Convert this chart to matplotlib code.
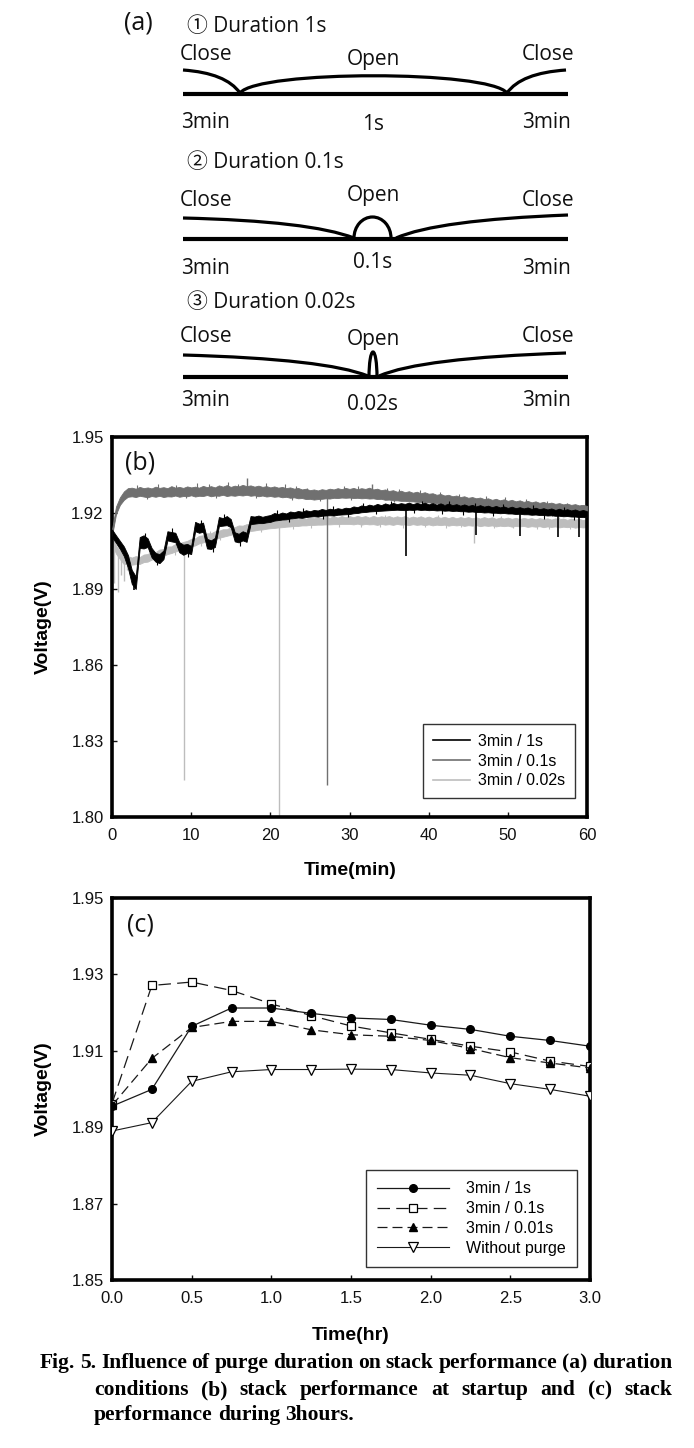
import numpy as np
import matplotlib
matplotlib.use("Agg")
import matplotlib.pyplot as plt
from matplotlib.path import Path
from matplotlib.patches import PathPatch, Arc
from matplotlib.lines import Line2D

plt.rcParams['font.family'] = ['Liberation Sans', 'DejaVu Sans']

# ---------------- data: panel (b) ----------------
# noisy traces read as upper / lower edge of the noise band every 0.5 min
t_b = np.arange(0, 60.01, 0.5)

hi_1s = [1.9135, 1.9112, 1.9090, 1.9068, 1.9035, 1.8975, 1.8950, 1.9105, 1.9112, 1.9100,
         1.9062, 1.9042, 1.9038, 1.9052, 1.9128, 1.9125, 1.9122, 1.9085, 1.9075, 1.9078,
         1.9070, 1.9165, 1.9158, 1.9162, 1.9098, 1.9092, 1.9102, 1.9184, 1.9180, 1.9188,
         1.9176, 1.9124, 1.9118, 1.9128, 1.9122, 1.9188, 1.9186, 1.9190, 1.9185, 1.9189,
         1.9192, 1.9200, 1.9196, 1.9202, 1.9198, 1.9206, 1.9203, 1.9208, 1.9205, 1.9211,
         1.9207, 1.9212, 1.9210, 1.9216, 1.9212, 1.9217, 1.9214, 1.9219, 1.9216, 1.9221,
         1.9219, 1.9226, 1.9223, 1.9230, 1.9227, 1.9233, 1.9229, 1.9236, 1.9231, 1.9238,
         1.9233, 1.9240, 1.9235, 1.9239, 1.9236, 1.9241, 1.9235, 1.9240, 1.9236, 1.9241,
         1.9234, 1.9239, 1.9233, 1.9238, 1.9232, 1.9237, 1.9231, 1.9235, 1.9229, 1.9234,
         1.9228, 1.9232, 1.9226, 1.9231, 1.9225, 1.9229, 1.9223, 1.9228, 1.9222, 1.9226,
         1.9220, 1.9225, 1.9219, 1.9223, 1.9218, 1.9222, 1.9216, 1.9221, 1.9215, 1.9219,
         1.9214, 1.9218, 1.9212, 1.9217, 1.9211, 1.9215, 1.9210, 1.9214, 1.9208, 1.9212,
         1.9207]
lo_1s = [1.9105, 1.9082, 1.9058, 1.9030, 1.8985, 1.8920, 1.8900, 1.9062, 1.9060, 1.9066,
         1.9025, 1.9008, 1.9002, 1.9018, 1.9092, 1.9088, 1.9085, 1.9045, 1.9035, 1.9042,
         1.9038, 1.9128, 1.9122, 1.9126, 1.9060, 1.9058, 1.9066, 1.9148, 1.9150, 1.9152,
         1.9144, 1.9088, 1.9084, 1.9092, 1.9086, 1.9156, 1.9158, 1.9160, 1.9160, 1.9163,
         1.9165, 1.9170, 1.9172, 1.9174, 1.9175, 1.9178, 1.9180, 1.9182, 1.9181, 1.9184,
         1.9186, 1.9187, 1.9186, 1.9189, 1.9190, 1.9191, 1.9190, 1.9193, 1.9194, 1.9195,
         1.9196, 1.9199, 1.9200, 1.9203, 1.9204, 1.9206, 1.9207, 1.9208, 1.9209, 1.9210,
         1.9211, 1.9212, 1.9213, 1.9212, 1.9211, 1.9213, 1.9212, 1.9214, 1.9212, 1.9213,
         1.9211, 1.9212, 1.9210, 1.9211, 1.9209, 1.9210, 1.9208, 1.9209, 1.9207, 1.9207,
         1.9205, 1.9206, 1.9204, 1.9204, 1.9202, 1.9203, 1.9201, 1.9201, 1.9199, 1.9200,
         1.9198, 1.9198, 1.9196, 1.9197, 1.9195, 1.9195, 1.9193, 1.9194, 1.9192, 1.9192,
         1.9190, 1.9191, 1.9189, 1.9189, 1.9187, 1.9188, 1.9186, 1.9186, 1.9184, 1.9185,
         1.9183]

hi_01s = [1.9135, 1.9225, 1.9262, 1.9285, 1.9298,
          1.9300, 1.9296, 1.9303, 1.9298, 1.9301, 1.9297, 1.9304, 1.9299, 1.9302, 1.9298,
          1.9306, 1.9300, 1.9303, 1.9299, 1.9305, 1.9301, 1.9304, 1.9300, 1.9307, 1.9302,
          1.9306, 1.9301, 1.9309, 1.9304, 1.9310, 1.9303, 1.9308, 1.9305, 1.9311, 1.9306,
          1.9309, 1.9304, 1.9308, 1.9303, 1.9306, 1.9301, 1.9305, 1.9300, 1.9303, 1.9298,
          1.9301, 1.9296, 1.9299, 1.9293, 1.9296, 1.9290,
          1.9293, 1.9289, 1.9294, 1.9291, 1.9296, 1.9293, 1.9298, 1.9294, 1.9299, 1.9295,
          1.9299, 1.9294, 1.9298, 1.9295, 1.9300, 1.9293, 1.9296, 1.9290, 1.9293, 1.9287,
          1.9290, 1.9284, 1.9288, 1.9282, 1.9286, 1.9280, 1.9284, 1.9278, 1.9282, 1.9276,
          1.9278, 1.9272, 1.9275, 1.9269, 1.9272, 1.9266, 1.9269, 1.9263, 1.9266, 1.9260,
          1.9263, 1.9258, 1.9261, 1.9255, 1.9258, 1.9252, 1.9256, 1.9250, 1.9254, 1.9248,
          1.9252, 1.9246, 1.9250, 1.9244, 1.9248, 1.9242, 1.9246, 1.9240, 1.9244, 1.9238,
          1.9241, 1.9236, 1.9239, 1.9234, 1.9237, 1.9232, 1.9235, 1.9230, 1.9232, 1.9228]
lo_01s = [1.9110, 1.9195, 1.9232, 1.9252, 1.9264,
          1.9266, 1.9263, 1.9268, 1.9265, 1.9262, 1.9267, 1.9264, 1.9268, 1.9263, 1.9266,
          1.9265, 1.9269, 1.9264, 1.9267, 1.9266, 1.9270, 1.9265, 1.9268, 1.9267, 1.9271,
          1.9266, 1.9269, 1.9268, 1.9272, 1.9267, 1.9270, 1.9268, 1.9271, 1.9269, 1.9272,
          1.9268, 1.9270, 1.9266, 1.9269, 1.9265, 1.9267, 1.9264, 1.9266, 1.9262, 1.9264,
          1.9260, 1.9262, 1.9258, 1.9259, 1.9255, 1.9256,
          1.9253, 1.9255, 1.9256, 1.9258, 1.9257, 1.9260, 1.9259, 1.9261, 1.9260, 1.9261,
          1.9259, 1.9260, 1.9258, 1.9259, 1.9257, 1.9258, 1.9255, 1.9256, 1.9252, 1.9253,
          1.9250, 1.9250, 1.9248, 1.9248, 1.9246, 1.9246, 1.9244, 1.9244, 1.9242, 1.9242,
          1.9240, 1.9239, 1.9236, 1.9236, 1.9233, 1.9233, 1.9230, 1.9230, 1.9228, 1.9228,
          1.9225, 1.9226, 1.9223, 1.9223, 1.9220, 1.9220, 1.9217, 1.9217, 1.9214, 1.9214,
          1.9211, 1.9211, 1.9208, 1.9208, 1.9205, 1.9205, 1.9202, 1.9202, 1.9199, 1.9199,
          1.9196, 1.9196, 1.9193, 1.9193, 1.9190, 1.9190, 1.9188, 1.9188, 1.9185, 1.9184]

hi_002s = [1.9105, 1.9072, 1.9050, 1.9028, 1.9030, 1.9024, 1.9030, 1.9026, 1.9036, 1.9038,
           1.9048, 1.9046, 1.9056, 1.9058, 1.9068, 1.9068, 1.9078, 1.9080, 1.9086, 1.9090,
           1.9098, 1.9100, 1.9110, 1.9112, 1.9120, 1.9120, 1.9128, 1.9130, 1.9136, 1.9136,
           1.9144, 1.9144, 1.9151, 1.9150, 1.9156, 1.9155, 1.9161, 1.9160, 1.9165, 1.9164,
           1.9170, 1.9167, 1.9173, 1.9170, 1.9176, 1.9173, 1.9179, 1.9175, 1.9181, 1.9177,
           1.9183, 1.9179, 1.9184, 1.9180, 1.9186, 1.9181, 1.9187, 1.9182, 1.9188, 1.9183,
           1.9188, 1.9183, 1.9189, 1.9184, 1.9188, 1.9182, 1.9189, 1.9183, 1.9187, 1.9184,
           1.9188, 1.9182, 1.9187, 1.9183, 1.9188, 1.9181, 1.9186, 1.9182, 1.9187, 1.9181,
           1.9186, 1.9180, 1.9186, 1.9181, 1.9185, 1.9180, 1.9185, 1.9179, 1.9184, 1.9180,
           1.9184, 1.9179, 1.9183, 1.9178, 1.9184, 1.9179, 1.9183, 1.9177, 1.9182, 1.9178,
           1.9182, 1.9177, 1.9181, 1.9176, 1.9181, 1.9177, 1.9180, 1.9175, 1.9180, 1.9176,
           1.9179, 1.9174, 1.9179, 1.9175, 1.9178, 1.9173, 1.9178, 1.9174, 1.9177, 1.9172,
           1.9176]
lo_002s = [1.9080, 1.9040, 1.9018, 1.8998, 1.9000, 1.8996, 1.8998, 1.8999, 1.9006, 1.9008,
           1.9016, 1.9020, 1.9026, 1.9030, 1.9038, 1.9042, 1.9048, 1.9052, 1.9058, 1.9062,
           1.9068, 1.9072, 1.9080, 1.9084, 1.9090, 1.9093, 1.9098, 1.9102, 1.9106, 1.9110,
           1.9114, 1.9118, 1.9121, 1.9124, 1.9126, 1.9129, 1.9131, 1.9134, 1.9135, 1.9138,
           1.9140, 1.9141, 1.9143, 1.9144, 1.9146, 1.9147, 1.9149, 1.9149, 1.9151, 1.9151,
           1.9153, 1.9153, 1.9154, 1.9154, 1.9155, 1.9155, 1.9156, 1.9156, 1.9157, 1.9157,
           1.9157, 1.9155, 1.9158, 1.9154, 1.9157, 1.9155, 1.9156, 1.9153, 1.9157, 1.9154,
           1.9156, 1.9153, 1.9157, 1.9154, 1.9155, 1.9152, 1.9156, 1.9153, 1.9155, 1.9152,
           1.9155, 1.9151, 1.9154, 1.9152, 1.9154, 1.9150, 1.9153, 1.9151, 1.9153, 1.9149,
           1.9152, 1.9150, 1.9152, 1.9148, 1.9151, 1.9149, 1.9151, 1.9147, 1.9150, 1.9148,
           1.9150, 1.9146, 1.9149, 1.9147, 1.9149, 1.9145, 1.9148, 1.9146, 1.9148, 1.9144,
           1.9147, 1.9145, 1.9147, 1.9143, 1.9146, 1.9144, 1.9146, 1.9142, 1.9145, 1.9143,
           1.9145]

# spikes (purge events): time (min), start level, end level
sp_1s_t = [2.8, 37.1, 46.0, 51.5, 56.3, 59.0]
sp_1s_top = [1.8950, 1.9215, 1.9205, 1.9200, 1.9195, 1.9190]
sp_1s_low = [1.8895, 1.9030, 1.9115, 1.9110, 1.9105, 1.9105]

sp_01s_t = [17.1, 27.2, 32.8]
sp_01s_top = [1.9290, 1.9270, 1.9285]
sp_01s_low = [1.9338, 1.8126, 1.9315]

sp_002s_t = [0.3, 0.7, 1.1, 1.5, 1.9, 9.1, 21.1, 45.7]
sp_002s_top = [1.9080, 1.9050, 1.9030, 1.9015, 1.9010, 1.9070, 1.9160, 1.9165]
sp_002s_low = [1.8925, 1.8890, 1.8955, 1.8930, 1.8975, 1.8146, 1.8000, 1.9080]

# small noise hairs sticking out of the bands: time, base, tip
hr_1s_t = [4.2, 5.7, 7.6, 9.6, 11.3, 12.8, 14.2, 16.2, 20.8, 22.4, 24.1, 26.6, 27.9, 29.8,
           31.7, 33.4, 35.3, 38.2, 39.1, 41.7, 42.6, 44.3, 45.8, 48.1, 49.4, 53.2, 54.6,
           57.1, 58.3]
hr_1s_base = [1.9085, 1.9025, 1.9105, 1.9060, 1.9140, 1.9080, 1.9165, 1.9100, 1.9185, 1.9190,
              1.9195, 1.9200, 1.9203, 1.9207, 1.9215, 1.9220, 1.9222, 1.9224, 1.9225, 1.9222,
              1.9222, 1.9218, 1.9217, 1.9213, 1.9212, 1.9206, 1.9203, 1.9200, 1.9198]
hr_1s_tip = [1.9120, 1.8995, 1.9140, 1.9025, 1.9172, 1.9048, 1.9198, 1.9070, 1.9212, 1.9165,
             1.9220, 1.9176, 1.9228, 1.9183, 1.9240, 1.9195, 1.9247, 1.9200, 1.9249, 1.9196,
             1.9246, 1.9193, 1.9241, 1.9188, 1.9236, 1.9230, 1.9178, 1.9224, 1.9173]

hr_01s_t = [3.2, 4.4, 5.8, 8.1, 9.3, 10.7, 12.3, 13.1, 14.6, 15.9, 18.2, 19.4, 21.8, 22.7,
            23.2, 24.6, 26.3, 29.3, 30.2, 31.1, 34.7, 35.6, 36.2, 38.9, 40.3, 41.4, 43.8,
            44.9, 47.2, 49.6, 50.8, 52.3, 54.9, 55.6, 57.5, 59.2]
hr_01s_base = [1.9282, 1.9282, 1.9283, 1.9284, 1.9284, 1.9285, 1.9286, 1.9286, 1.9288, 1.9288,
               1.9287, 1.9285, 1.9283, 1.9280, 1.9278, 1.9275, 1.9272, 1.9278, 1.9278, 1.9277,
               1.9272, 1.9270, 1.9268, 1.9262, 1.9258, 1.9256, 1.9249, 1.9246, 1.9240, 1.9234,
               1.9230, 1.9227, 1.9220, 1.9218, 1.9213, 1.9209]
hr_01s_tip = [1.9312, 1.9255, 1.9315, 1.9310, 1.9258, 1.9318, 1.9314, 1.9260, 1.9322, 1.9316,
              1.9261, 1.9317, 1.9313, 1.9252, 1.9308, 1.9300, 1.9247, 1.9306, 1.9252, 1.9308,
              1.9298, 1.9243, 1.9296, 1.9290, 1.9233, 1.9282, 1.9276, 1.9220, 1.9266, 1.9262,
              1.9204, 1.9255, 1.9246, 1.9190, 1.9240, 1.9233]

hr_002s_t = [3.1, 5.6, 6.8, 7.9, 11.2, 12.4, 13.6, 16.4, 18.8, 20.6, 22.9, 25.1, 27.1, 28.7,
             31.4, 33.9, 34.5, 36.8, 39.5, 41.2, 42.2, 44.1, 48.3, 49.1, 50.6, 53.7, 55.2,
             56.4, 57.9]
hr_002s_base = [1.9012, 1.9033, 1.9050, 1.9062, 1.9095, 1.9105, 1.9116, 1.9137, 1.9148, 1.9155,
                1.9162, 1.9167, 1.9170, 1.9170, 1.9170, 1.9169, 1.9170, 1.9169, 1.9168, 1.9168,
                1.9167, 1.9166, 1.9165, 1.9164, 1.9163, 1.9162, 1.9161, 1.9160, 1.9160]
hr_002s_tip = [1.8990, 1.9008, 1.9078, 1.9036, 1.9068, 1.9130, 1.9092, 1.9112, 1.9125, 1.9178,
               1.9138, 1.9141, 1.9193, 1.9146, 1.9143, 1.9146, 1.9194, 1.9142, 1.9145, 1.9191,
               1.9141, 1.9144, 1.9139, 1.9188, 1.9141, 1.9136, 1.9138, 1.9183, 1.9135]

# ---------------- data: panel (c) ----------------
t_c = [0.0, 0.25, 0.5, 0.75, 1.0, 1.25, 1.5, 1.75, 2.0, 2.25, 2.5, 2.75, 3.0]
c_1s = [1.8955, 1.8999, 1.9164, 1.9212, 1.9212, 1.9198, 1.9186, 1.9182, 1.9167, 1.9156, 1.9138, 1.9127, 1.9112]
c_01s = [1.8962, 1.9271, 1.9280, 1.9258, 1.9223, 1.9192, 1.9165, 1.9147, 1.9130, 1.9112, 1.9097, 1.9073, 1.9059]
c_001s = [1.8957, 1.9080, 1.9161, 1.9177, 1.9177, 1.9155, 1.9142, 1.9138, 1.9127, 1.9106, 1.9082, 1.9068, 1.9055]
c_none = [1.8890, 1.8912, 1.9020, 1.9045, 1.9051, 1.9051, 1.9052, 1.9051, 1.9042, 1.9036, 1.9014, 1.8999, 1.8981]

labels_b = ['3min / 1s', '3min / 0.1s', '3min / 0.02s']
labels_c = ['3min / 1s', '3min / 0.1s', '3min / 0.01s', 'Without purge']

caption = ["Fig. 5. Influence of purge duration on stack performance (a) duration",
           "conditions (b) stack performance at startup and (c) stack",
           "performance during 3hours."]

# ---------------- figure ----------------
W, H = 694, 1448
fig = plt.figure(figsize=(W / 100, H / 100), dpi=100)


def fx(x):
    return x / W


def fy(y):
    return 1 - y / H


# ---------------- panel (a) schematic ----------------
axa = fig.add_axes([0, fy(420), 1, 420 / H])
axa.set_xlim(0, W)
axa.set_ylim(420, 0)
axa.axis('off')

afont = dict(family=['Open Sans', 'Noto Sans CJK KR', 'DejaVu Sans'], color='#111111')
LW_BASE = 3.0
LW_CURVE = 2.3


def quad(p0, p1, p2):
    return PathPatch(Path([p0, p1, p2], [Path.MOVETO, Path.CURVE3, Path.CURVE3]),
                     fc='none', ec='black', lw=LW_CURVE, capstyle='butt')


def cubic(p0, p1, p2, p3):
    return PathPatch(Path([p0, p1, p2, p3], [Path.MOVETO, Path.CURVE4, Path.CURVE4, Path.CURVE4]),
                     fc='none', ec='black', lw=LW_CURVE, capstyle='butt')


axa.text(138, 23, '(a)', fontsize=18, ha='center', va='center', **afont)

headers = ['\u2460 Duration 1s', '\u2461 Duration 0.1s', '\u2462 Duration 0.02s']
mid_lbl = ['1s', '0.1s', '0.02s']
head_y = [26, 163, 303]
base_y = [94, 239, 377]
close_y = [54, 201, 337]
open_y = [59, 195, 339]
low_y = [122, 268, 400]
mid_low_y = [124, 263, 404]

for i in range(3):
    axa.text(187, head_y[i], headers[i], fontsize=15, ha='left', va='center', **afont)
    axa.text(206, close_y[i], 'Close', fontsize=15, ha='center', va='center', **afont)
    axa.text(548, close_y[i], 'Close', fontsize=15, ha='center', va='center', **afont)
    axa.text(373, open_y[i], 'Open', fontsize=15, ha='center', va='center', **afont)
    axa.text(206, low_y[i], '3min', fontsize=15, ha='center', va='center', **afont)
    axa.text(547, low_y[i], '3min', fontsize=15, ha='center', va='center', **afont)
    axa.text(373, mid_low_y[i], mid_lbl[i], fontsize=15, ha='center', va='center', **afont)
    axa.plot([183, 568], [base_y[i], base_y[i]], color='black', lw=LW_BASE, solid_capstyle='butt')

# row 1 (long open)
axa.add_patch(quad((183, 70), (226, 73), (240, 93)))
axa.add_patch(cubic((240, 93), (258, 70), (489, 70), (507, 93)))
axa.add_patch(quad((507, 93), (521, 73), (566, 70)))
# row 2
axa.add_patch(quad((183, 218), (310, 221), (354, 238)))
axa.add_patch(Arc((372.5, 238), 37, 42, theta1=180, theta2=360, lw=LW_CURVE, color='black'))
axa.add_patch(quad((396, 238), (437, 220), (568, 215)))
# row 3
axa.add_patch(quad((183, 355), (326, 359), (368, 376)))
axa.add_patch(Arc((373, 377), 8, 50, theta1=180, theta2=360, lw=LW_CURVE, color='black'))
axa.add_patch(quad((379, 376), (420, 358), (566, 353)))

# ---------------- panel (b) ----------------
SPINE = 2.6
c_blk, c_dg, c_lg = '#000000', '#707070', '#bdbdbd'

axb = fig.add_axes([fx(112), fy(817), 475 / W, 380 / H])
axb.fill_between(t_b, lo_002s, hi_002s, color=c_lg, lw=0.6, zorder=2)
axb.vlines(hr_002s_t, hr_002s_base, hr_002s_tip, color=c_lg, lw=0.8, zorder=2)
axb.vlines(sp_002s_t, sp_002s_top, sp_002s_low, color=c_lg, lw=1.0, zorder=2)
axb.fill_between(t_b, lo_01s, hi_01s, color=c_dg, lw=0.6, zorder=3)
axb.vlines(hr_01s_t, hr_01s_base, hr_01s_tip, color=c_dg, lw=0.8, zorder=3)
axb.vlines(sp_01s_t, sp_01s_top, sp_01s_low, color=c_dg, lw=1.0, zorder=3)
axb.fill_between(t_b, lo_1s, hi_1s, color=c_blk, lw=0.6, zorder=4)
axb.vlines(hr_1s_t, hr_1s_base, hr_1s_tip, color=c_blk, lw=0.8, zorder=4)
axb.vlines(sp_1s_t, sp_1s_top, sp_1s_low, color=c_blk, lw=1.2, zorder=4)
axb.set_xlim(0, 60)
axb.set_ylim(1.80, 1.95)
axb.set_xticks([0, 10, 20, 30, 40, 50, 60])
axb.set_yticks([1.80, 1.83, 1.86, 1.89, 1.92, 1.95])
axb.set_yticklabels(['%.2f' % v for v in [1.80, 1.83, 1.86, 1.89, 1.92, 1.95]])
for s in axb.spines.values():
    s.set_linewidth(SPINE)
axb.tick_params(direction='in', length=3.5, width=1, labelsize=12, colors='#111111')
axb.tick_params(axis='x', pad=8)
axb.tick_params(axis='y', pad=6)
handles_b = [Line2D([], [], color=c, lw=1.2) for c in (c_blk, c_dg, c_lg)]
leg = axb.legend(handles_b, labels_b, loc='lower right', bbox_to_anchor=(0.975, 0.05),
                 fontsize=11.5, frameon=True, fancybox=False, edgecolor='black',
                 borderpad=0.6, handlelength=2.3, handletextpad=0.55, labelspacing=0.3,
                 borderaxespad=0)
leg.get_frame().set_linewidth(1.0)
leg.set_zorder(10)
fig.text(fx(140), fy(463), '(b)', fontsize=18, ha='center', va='center',
         family=['Open Sans', 'DejaVu Sans'], color='#111111')
fig.text(fx(43), fy(627), 'Voltage(V)', fontsize=14, weight='bold', rotation=90,
         ha='center', va='center')
fig.text(fx(350), fy(870), 'Time(min)', fontsize=14, weight='bold', ha='center', va='center')

# ---------------- panel (c) ----------------
axc = fig.add_axes([fx(112), fy(1280), 478 / W, 382 / H])
lc = '#1a1a1a'
axc.plot(t_c, c_1s, color=lc, lw=0.9, marker='o', ms=5.5, mfc='black', mec='black', zorder=5)
l2, = axc.plot(t_c, c_01s, color=lc, lw=0.9, marker='s', ms=6, mfc='white', mec='black',
               mew=0.9, zorder=4)
l2.set_dashes([10, 5])
l3, = axc.plot(t_c, c_001s, color=lc, lw=0.9, marker='^', ms=6, mfc='black', mec='black', zorder=4)
l3.set_dashes([8, 4])
axc.plot(t_c, c_none, color=lc, lw=0.8, marker='v', ms=6.5, mfc='white', mec='black',
         mew=0.9, zorder=3)
axc.set_xlim(0, 3.0)
axc.set_ylim(1.85, 1.95)
axc.set_xticks([0.0, 0.5, 1.0, 1.5, 2.0, 2.5, 3.0])
axc.set_xticklabels(['%.1f' % v for v in [0.0, 0.5, 1.0, 1.5, 2.0, 2.5, 3.0]])
axc.set_yticks([1.85, 1.87, 1.89, 1.91, 1.93, 1.95])
axc.set_yticklabels(['%.2f' % v for v in [1.85, 1.87, 1.89, 1.91, 1.93, 1.95]])
for s in axc.spines.values():
    s.set_linewidth(SPINE)
axc.tick_params(direction='in', length=3.5, width=1, labelsize=12, colors='#111111')
axc.tick_params(axis='x', pad=8)
axc.tick_params(axis='y', pad=6)
leg2 = axc.legend(labels_c, loc='lower right', bbox_to_anchor=(0.973, 0.034),
                  fontsize=11.5, frameon=True, fancybox=False, edgecolor='black',
                  borderpad=0.7, handlelength=4.5, handletextpad=1.1, labelspacing=0.3,
                  borderaxespad=0, numpoints=1)
leg2.get_frame().set_linewidth(1.0)
fig.text(fx(140), fy(925), '(c)', fontsize=18, ha='center', va='center',
         family=['Open Sans', 'DejaVu Sans'], color='#111111')
fig.text(fx(43), fy(1089), 'Voltage(V)', fontsize=14, weight='bold', rotation=90,
         ha='center', va='center')
fig.text(fx(351), fy(1336), 'Time(hr)', fontsize=14, weight='bold', ha='center', va='center')

# ---------------- caption ----------------
cap_font = dict(family='Liberation Serif', weight='bold', fontsize=15.5, va='center')


def put_line(text, x0, x1, y, justify=True):
    words = text.split(' ')
    objs = [fig.text(0, 0, w, **cap_font) for w in words]
    fig.canvas.draw()
    r = fig.canvas.get_renderer()
    ws = [o.get_window_extent(r).width for o in objs]
    if justify and len(words) > 1:
        gap = ((x1 - x0) - sum(ws)) / (len(words) - 1)
    else:
        sp = fig.text(0, 0, 'a a', **cap_font)
        sa = fig.text(0, 0, 'aa', **cap_font)
        fig.canvas.draw()
        gap = sp.get_window_extent(r).width - sa.get_window_extent(r).width
        sp.remove()
        sa.remove()
    x = x0
    for o, w in zip(objs, ws):
        o.set_position((fx(x), fy(y)))
        x += w + gap


put_line(caption[0], 40, 672, 1363)
put_line(caption[1], 94, 672, 1390)
put_line(caption[2], 94, 672, 1415, justify=False)

fig.savefig('out.png', dpi=100)
